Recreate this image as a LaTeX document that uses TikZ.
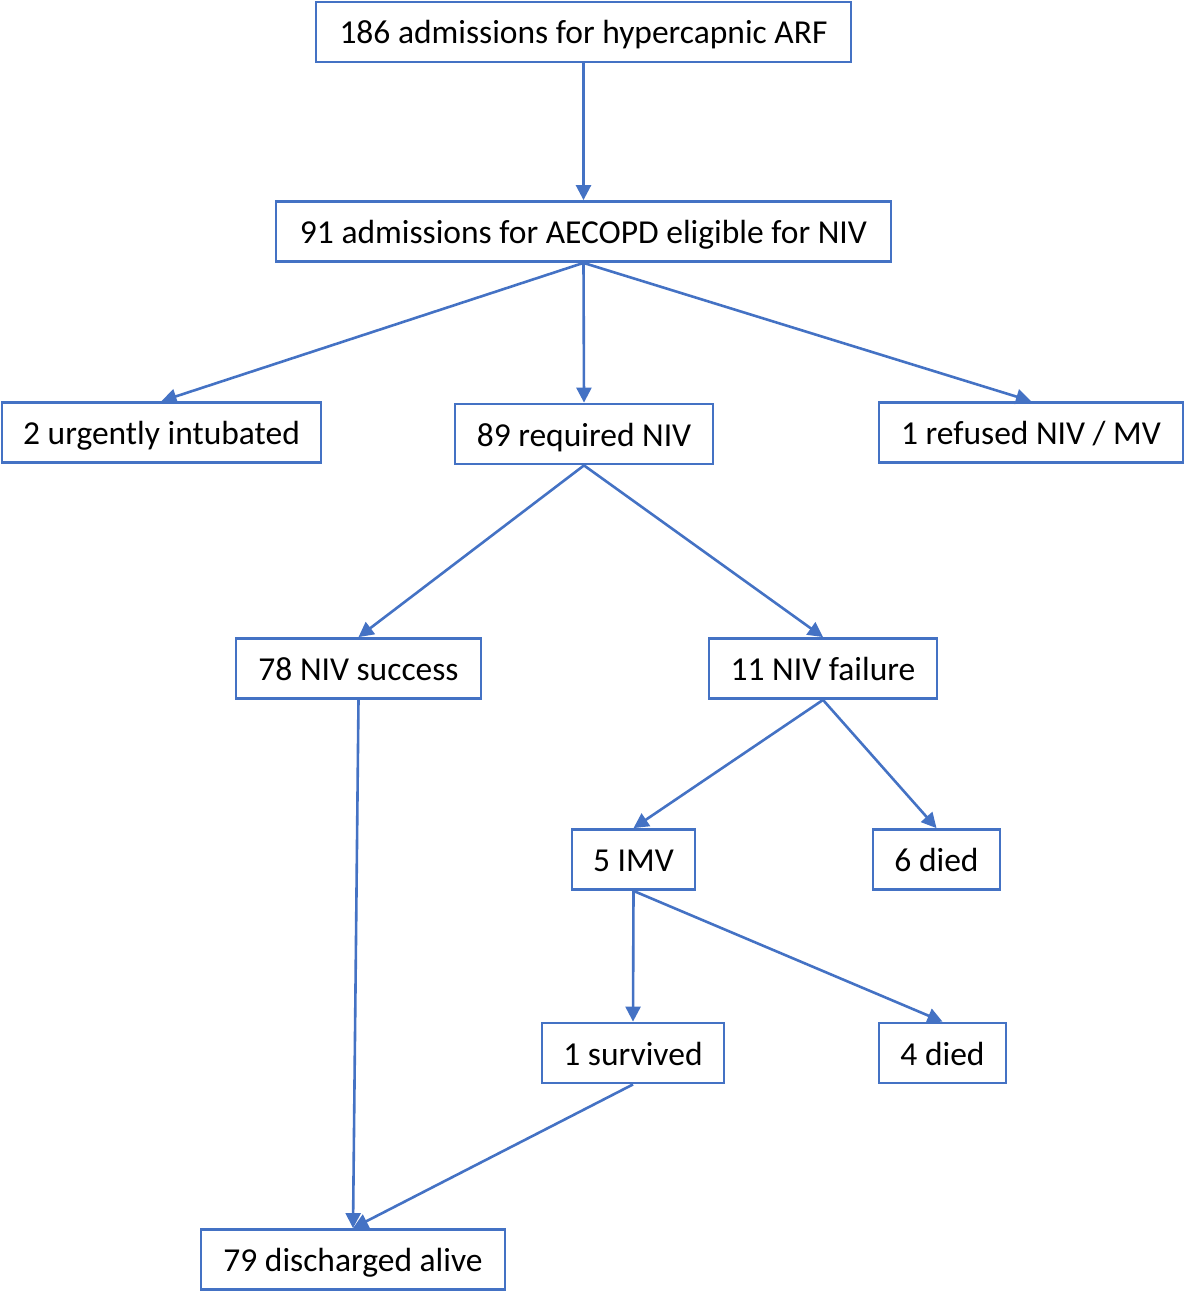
\documentclass[tikz,border=0pt]{standalone}
\usepackage{fontspec}
\setmainfont{Carlito}
\usetikzlibrary{arrows.meta}
\definecolor{blu}{HTML}{4472C4}
\begin{document}
\begin{tikzpicture}[x=1pt,y=-1pt,
  box/.style={draw=blu, line width=2.8pt, inner sep=0pt, font=\fontsize{33.5}{40}\selectfont, text=black, minimum height=60pt, text height=29pt, text depth=5pt},
  conn/.style={draw=blu, line width=2.6pt, -{Triangle[length=15pt,width=15pt]}}]
\useasboundingbox (0,0) rectangle (1184,1292);
\node[box, minimum width=535pt] (a) at (583.5,32) {186 admissions for hypercapnic ARF};
\node[box, minimum width=615pt] (b) at (583.5,231.5) {91 admissions for AECOPD eligible for NIV};
\node[box, minimum width=319pt] (c) at (161.5,432.5) {2 urgently intubated};
\node[box, minimum width=258pt] (d) at (584,434) {89 required NIV};
\node[box, minimum width=304pt] (e) at (1031,432.5) {1 refused NIV / MV};
\node[box, minimum width=245pt] (f) at (358.5,668.5) {78 NIV success};
\node[box, minimum width=228pt] (g) at (823,668.5) {11 NIV failure};
\node[box, minimum width=123pt] (h) at (633.5,859.5) {5 IMV};
\node[box, minimum width=127pt] (i) at (936.5,859.5) {6 died};
\node[box, minimum width=182pt] (j) at (633,1053) {1 survived};
\node[box, minimum width=127pt] (k) at (942.5,1053) {4 died};
\node[box, minimum width=304pt] (l) at (353,1259.5) {79 discharged alive};
\draw[conn] (a.south) -- (b.north);
\draw[conn] (b.south) -- (c.north);
\draw[conn] (b.south) -- (d.north);
\draw[conn] (b.south) -- (e.north);
\draw[conn] (d.south) -- (f.north);
\draw[conn] (d.south) -- (g.north);
\draw[conn] (f.south) -- (l.north);
\draw[conn] (g.south) -- (h.north);
\draw[conn] (g.south) -- (i.north);
\draw[conn] (h.south) -- (j.north);
\draw[conn] (h.south) -- (k.north);
\draw[conn] (j.south) -- (l.north);
\end{tikzpicture}
\end{document}
